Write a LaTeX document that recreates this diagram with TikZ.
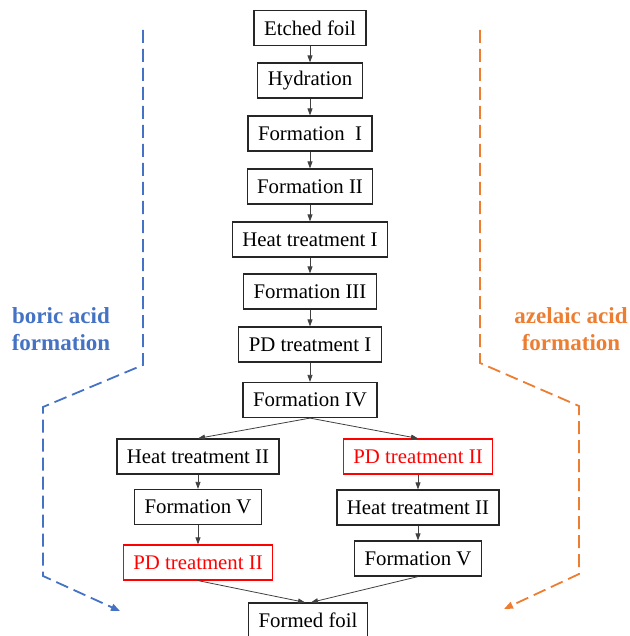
\documentclass[tikz,border=0pt]{standalone}
\usepackage{fontspec}
\setmainfont{Liberation Serif}
\usetikzlibrary{arrows.meta}
\definecolor{bblue}{HTML}{4472C4}
\definecolor{borange}{HTML}{ED7D31}
\definecolor{bred}{HTML}{FF0000}
\begin{document}
\begin{tikzpicture}[x=1pt,y=-1pt,
  stepbox/.style={draw=black!85,line width=1.2pt,minimum height=35pt,inner xsep=10pt,inner ysep=0pt,font=\fontsize{20.8}{24}\selectfont,text=black},
  redbox/.style={stepbox,draw=bred,text=bred},
  conn/.style={draw=black!75,line width=0.8pt,-{Triangle[length=7pt,width=5pt]}},
  sidelabel/.style={font=\fontsize{23}{27}\selectfont\bfseries,align=center},
  dashline/.style={line width=1.8pt,dash pattern=on 13pt off 6pt,-{Triangle[length=9pt,width=7pt]}}
]
\useasboundingbox (0,0) rectangle (629,636);
\node[stepbox] (etch) at (310,28) {Etched foil};
\node[stepbox] (hyd) at (310,80.5) {Hydration};
\node[stepbox] (f1) at (310,133.5) {Formation\ \ I};
\node[stepbox] (f2) at (310,186.5) {Formation II};
\node[stepbox] (h1) at (310,239.5) {Heat treatment I};
\node[stepbox] (f3) at (310,291.5) {Formation III};
\node[stepbox] (pd1) at (310,344.5) {PD treatment I};
\node[stepbox] (f4) at (310,400) {Formation IV};
\node[stepbox] (lh2) at (198,456.5) {Heat treatment II};
\node[redbox] (rpd2) at (418,456.5) {PD treatment II};
\node[stepbox] (lf5) at (198,507) {Formation V};
\node[stepbox] (rh2) at (418,507.5) {Heat treatment II};
\node[redbox] (lpd2) at (198,562.5) {PD treatment II};
\node[stepbox] (rf5) at (418,558.5) {Formation V};
\node[stepbox] (formed) at (308,620.5) {Formed foil};

\draw[conn] (etch) -- (hyd);
\draw[conn] (hyd) -- (f1);
\draw[conn] (f1) -- (f2);
\draw[conn] (f2) -- (h1);
\draw[conn] (h1) -- (f3);
\draw[conn] (f3) -- (pd1);
\draw[conn] (pd1) -- (f4);
\draw[conn] (f4.south) -- (lh2.north);
\draw[conn] (f4.south) -- (rpd2.north);
\draw[conn] (lh2) -- (lf5);
\draw[conn] (lf5) -- (lpd2);
\draw[conn] (rpd2) -- (rh2);
\draw[conn] (rh2) -- (rf5);
\draw[conn] (lpd2.south) -- ([xshift=-3pt]formed.north);
\draw[conn] (rf5.south) -- ([xshift=3pt]formed.north);

\coordinate (b0) at (143,30);
\coordinate (b1) at (143,365);
\coordinate (b2) at (43,407);
\coordinate (b3) at (43,576);
\coordinate (b4) at (120,611);
\draw[dashline,bblue] (b0) -- (b1) -- (b2) -- (b3) -- (b4);
\coordinate (o0) at (480,30);
\coordinate (o1) at (480,363);
\coordinate (o2) at (579,406);
\coordinate (o3) at (579,574);
\coordinate (o4) at (504,609);
\draw[dashline,borange] (o0) -- (o1) -- (o2) -- (o3) -- (o4);

\node[sidelabel,text=bblue] (lbl) at (61,329) {boric acid\\formation};
\node[sidelabel,text=borange] (rlbl) at (571,329) {azelaic acid\\formation};
\end{tikzpicture}
\end{document}
